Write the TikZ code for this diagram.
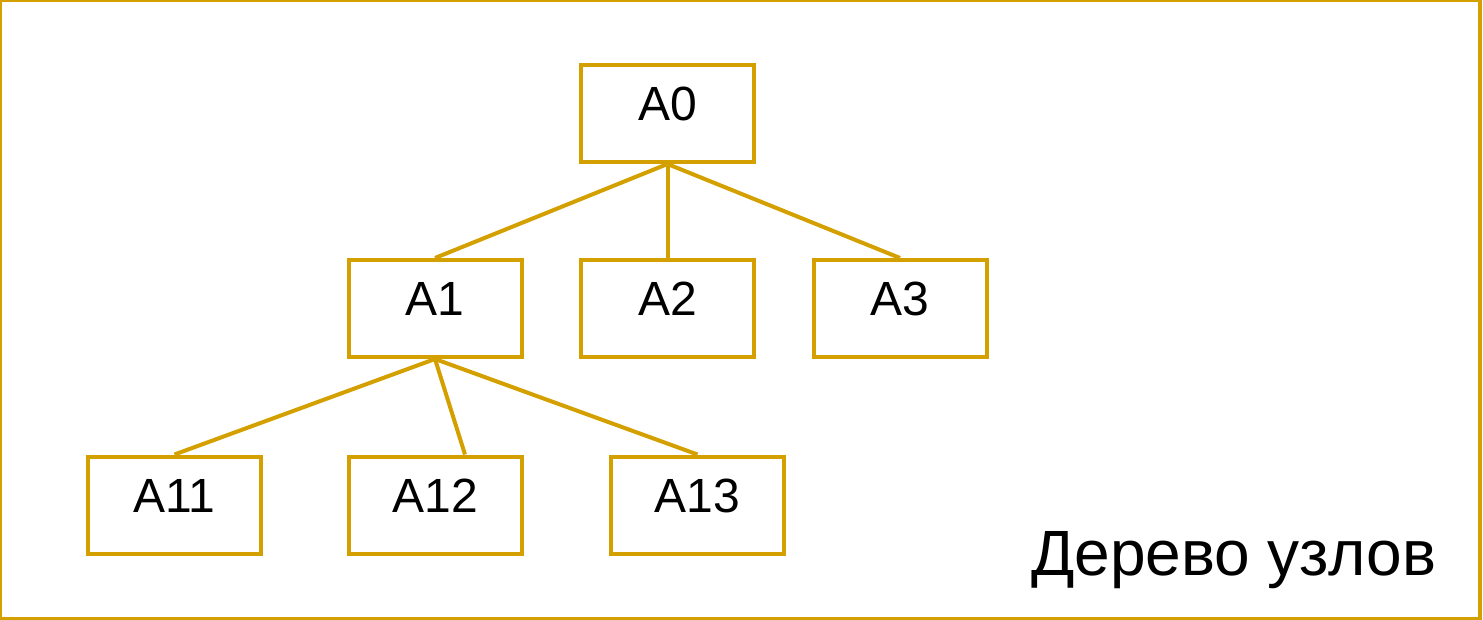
\documentclass[tikz,border=0pt]{standalone}
\usepackage{fontspec}
\setmainfont{Liberation Sans}
\definecolor{gold}{RGB}{212,160,0}
\begin{document}
\begin{tikzpicture}[x=1pt,y=-1pt,
  treebox/.style={draw=gold, line width=4pt, fill=white, minimum width=173pt,
    minimum height=97pt, inner sep=0pt, text height=34pt, text depth=20pt,
    font=\fontsize{48}{48}\selectfont},
  branch/.style={draw=gold, line width=4pt}]
  \useasboundingbox (0,0) rectangle (1483,620);
  % outer frame
  \draw[gold, line width=3.5pt] (0.5,0.5) rectangle (1480,618.5);
  % tree nodes
  \node[treebox] (a0)  at (667.5,113.5) {A0};
  \node[treebox] (a1)  at (435,308.5)   {A1};
  \node[treebox] (a2)  at (667.5,308.5) {A2};
  \node[treebox] (a3)  at (900,308.5)   {A3};
  \node[treebox] (a11) at (174.5,505)   {A11};
  \node[treebox] (a12) at (435,505)     {A12};
  \node[treebox] (a13) at (697.5,505)   {A13};
  % branches
  \draw[branch] (a0.south) -- (a1.north);
  \draw[branch] (a0.south) -- (a2.north);
  \draw[branch] (a0.south) -- (a3.north);
  \draw[branch] (a1.south) -- (a11.north);
  \draw[branch] (a1.south) -- ([xshift=30pt]a12.north);
  \draw[branch] (a1.south) -- (a13.north);
  % caption
  \node[anchor=base west, inner sep=0pt, font=\fontsize{64}{64}\selectfont]
    (cap) at (1031,575) {Дерево узлов};
\end{tikzpicture}
\end{document}
